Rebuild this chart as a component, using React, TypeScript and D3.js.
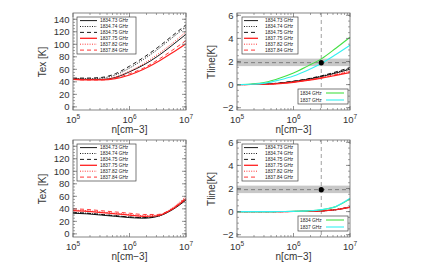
import * as d3 from 'd3'

const logN = [5, 5.25, 5.5, 5.75, 6, 6.25, 6.5, 6.75, 7]
const lineLabels = ['1834.73 GHz', '1834.74 GHz', '1834.75 GHz', '1837.75 GHz', '1837.82 GHz', '1837.84 GHz']
const lineColors = ['#000', '#000', '#000', '#ff2020', '#ff2020', '#ff2020']
const lineDash = ['', '1,1.4', '4,3', '', '1,1.4', '4,3']
const sumLabels = ['1834 GHz', '1837 GHz']
const sumColors = ['#44e044', '#33f0f0']

// Tex [K], top row
const texTop = [
  [45, 44, 44, 47, 56, 67, 81, 98, 116],
  [45, 45, 46, 51, 62, 76, 92, 110, 128],
  [46, 46, 47, 53, 65, 79, 95, 113, 131],
  [44, 43, 43, 45, 51, 60, 72, 86, 101],
  [45, 44, 44, 48, 57, 69, 84, 101, 120],
  [44, 43, 43, 46, 53, 62, 75, 90, 106],
]
// Tline [K], top row
const tlineTop = [
  [0, 0.01, 0.04, 0.12, 0.26, 0.45, 0.7, 1.0, 1.33],
  [0, 0.01, 0.05, 0.13, 0.28, 0.48, 0.74, 1.05, 1.42],
  [0, 0.01, 0.05, 0.14, 0.3, 0.5, 0.77, 1.1, 1.48],
  [0, 0.01, 0.03, 0.09, 0.2, 0.36, 0.56, 0.8, 1.05],
  [0, 0.01, 0.04, 0.11, 0.24, 0.41, 0.63, 0.9, 1.18],
  [0, 0.01, 0.03, 0.1, 0.22, 0.38, 0.6, 0.85, 1.12],
]
const sumTop = [
  [0, 0.05, 0.2, 0.55, 1.0, 1.6, 2.25, 3.15, 4.1],
  [0, 0.03, 0.13, 0.4, 0.75, 1.25, 1.85, 2.6, 3.4],
]
// bottom row
const texBottom = [
  [33, 32, 30, 28, 26, 25, 28, 38, 54],
  [34, 33, 31, 29, 27, 26, 28, 39, 56],
  [34, 33, 31, 29, 27, 26, 29, 39, 55],
  [37, 36, 34, 32, 30, 28, 29, 39, 56],
  [38, 37, 35, 33, 31, 29, 30, 41, 60],
  [40, 39, 37, 35, 33, 31, 31, 40, 58],
]
const tlineBottom = [
  [0, 0, 0, 0, 0.01, 0.02, 0.06, 0.16, 0.38],
  [0, 0, 0, 0, 0.01, 0.02, 0.06, 0.17, 0.4],
  [0, 0, 0, 0, 0.01, 0.02, 0.06, 0.17, 0.41],
  [0, 0, 0, 0, 0.01, 0.02, 0.06, 0.16, 0.37],
  [0, 0, 0, 0, 0.01, 0.02, 0.07, 0.18, 0.42],
  [0, 0, 0, 0, 0.01, 0.02, 0.06, 0.17, 0.4],
]
const sumBottom = [
  [0, 0, 0, 0.005, 0.02, 0.06, 0.16, 0.43, 1.1],
  [0, 0, 0, 0.005, 0.02, 0.06, 0.17, 0.45, 1.15],
]

const texTicks = [0, 20, 40, 60, 80, 100, 120, 140]
const tlineTicks = [-2, 0, 2, 4, 6]
const xDecades = [5, 6, 7]
const obsN = 3.1e6
const obsT = 1.9
const obsLo = 1.6
const obsHi = 2.25

const FONT = 'Liberation Sans, Arial, sans-serif'
const AX = '#666'

function Panel({ left, top, kind, series, sums }: any) {
  const w = 113
  const h = 97
  const x = d3.scaleLog().domain([1e5, 1e7]).range([left, left + w])
  const y = kind === 'tex'
    ? d3.scaleLinear().domain([-5, 150]).range([top + h, top])
    : d3.scaleLinear().domain([-2.2, 6.2]).range([top + h, top])
  const yTicks = kind === 'tex' ? texTicks : tlineTicks
  const yMinorStep = kind === 'tex' ? 5 : 0.5
  const yMinor = d3.range(yTicks[0], yTicks[yTicks.length - 1] + 1e-9, yMinorStep)
  const xMinor: number[] = []
  for (const d of [5, 6]) for (let k = 2; k <= 9; k++) xMinor.push(k * 10 ** d)
  const line = d3.line<number>()
    .x((_, i) => x(10 ** logN[i]))
    .y((v) => y(v))
    .curve(d3.curveMonotoneX)
  const right = left + w
  const bottom = top + h

  return (
    <g>
      {kind === 'tline' && (
        <g>
          <rect x={left} y={y(obsHi)} width={w} height={y(obsLo) - y(obsHi)} fill="#c8c8c8" />
          <line x1={left} x2={right} y1={y(obsT)} y2={y(obsT)} stroke="#777" strokeWidth={0.9} strokeDasharray="4,3" />
          <line x1={x(obsN)} x2={x(obsN)} y1={top} y2={bottom} stroke="#888" strokeWidth={0.8} strokeDasharray="4,3" />
        </g>
      )}
      {series.map((s: number[], i: number) => (
        <path key={i} d={line(s) || ''} fill="none" stroke={lineColors[i]}
          strokeWidth={i === 3 ? 1.2 : 0.9} strokeDasharray={lineDash[i]} />
      ))}
      {sums && sums.map((s: number[], i: number) => (
        <path key={'s' + i} d={line(s) || ''} fill="none" stroke={sumColors[i]} strokeWidth={1.1} />
      ))}
      {kind === 'tline' && <circle cx={x(obsN)} cy={y(obsT)} r={2.6} fill="#000" />}

      <rect x={left} y={top} width={w} height={h} fill="none" stroke={AX} strokeWidth={0.8} />
      {yTicks.map((t: number) => (
        <g key={'y' + t}>
          <line x1={left} x2={left + 4} y1={y(t)} y2={y(t)} stroke={AX} strokeWidth={0.7} />
          <line x1={right} x2={right - 4} y1={y(t)} y2={y(t)} stroke={AX} strokeWidth={0.7} />
          <text x={left - 3.5} y={y(t) + 3.4} textAnchor="end" fontSize={9.5} fill="#333" fontFamily={FONT}>
            {t < 0 ? '\u2212' + Math.abs(t) : t}
          </text>
        </g>
      ))}
      {yMinor.map((t: number) => (
        <g key={'ym' + t}>
          <line x1={left} x2={left + 2} y1={y(t)} y2={y(t)} stroke={AX} strokeWidth={0.6} />
          <line x1={right} x2={right - 2} y1={y(t)} y2={y(t)} stroke={AX} strokeWidth={0.6} />
        </g>
      ))}
      {xDecades.map((d) => (
        <g key={'x' + d}>
          <line x1={x(10 ** d)} x2={x(10 ** d)} y1={bottom} y2={bottom - 4} stroke={AX} strokeWidth={0.7} />
          <line x1={x(10 ** d)} x2={x(10 ** d)} y1={top} y2={top + 4} stroke={AX} strokeWidth={0.7} />
          <text x={x(10 ** d)} y={bottom + 12.5} textAnchor="middle" fontSize={9.5} fill="#333" fontFamily={FONT}>
            10<tspan fontSize={6.5} dy={-4}>{d}</tspan>
          </text>
        </g>
      ))}
      {xMinor.map((v) => (
        <g key={'xm' + v}>
          <line x1={x(v)} x2={x(v)} y1={bottom} y2={bottom - 2} stroke={AX} strokeWidth={0.6} />
          <line x1={x(v)} x2={x(v)} y1={top} y2={top + 2} stroke={AX} strokeWidth={0.6} />
        </g>
      ))}
      <text x={(left + right) / 2} y={bottom + 23} textAnchor="middle" fontSize={10} fill="#333" fontFamily={FONT}>
        {'n[cm\u22123]'}
      </text>
      <text transform={`translate(${kind === 'tex' ? left - 27 : left - 22},${top + 49}) rotate(-90)`}
        textAnchor="middle" fontSize={10} fill="#333" fontFamily={FONT}>
        {kind === 'tex' ? 'Tex [K]' : 'Tline[K]'}
      </text>

      {/* legend of the six transitions */}
      <g transform={`translate(${kind === 'tex' ? left + 4 : left + 5},${top + 4})`}>
        <rect x={0} y={0} width={kind === 'tex' ? 59 : 56} height={37} fill="#fff" stroke="#444" strokeWidth={0.7} />
        {lineLabels.map((lab, i) => (
          <g key={lab} transform={`translate(0,${3.6 + i * 5.9})`}>
            <line x1={kind === 'tex' ? 3 : 2} x2={kind === 'tex' ? 20 : 16} y1={0} y2={0} stroke={lineColors[i]}
              strokeWidth={i === 3 ? 1.3 : 0.9} strokeDasharray={lineDash[i]} />
            <text x={23} y={1.7} fontSize={4.8} fill="#222" fontFamily={FONT}>{lab}</text>
          </g>
        ))}
      </g>
      {sums && (
        <g transform={`translate(${left + 61},${top + 76})`}>
          <rect x={0} y={0} width={50} height={15} fill="#fff" stroke="#444" strokeWidth={0.7} />
          {sumLabels.map((lab, i) => (
            <g key={lab} transform={`translate(0,${4 + i * 7})`}>
              <text x={2} y={1.7} fontSize={4.8} fill="#222" fontFamily={FONT}>{lab}</text>
              <line x1={28} x2={46} y1={0} y2={0} stroke={sumColors[i]} strokeWidth={1.1} />
            </g>
          ))}
        </g>
      )}
    </g>
  )
}

export default function App() {
  return (
    <svg width={432} height={263} style={{ position: 'absolute', left: 0, top: 0, background: '#fff' }}>
      <Panel left={73} top={13} kind="tex" series={texTop} />
      <Panel left={237} top={13} kind="tline" series={tlineTop} sums={sumTop} />
      <Panel left={73} top={140} kind="tex" series={texBottom} />
      <Panel left={237} top={140} kind="tline" series={tlineBottom} sums={sumBottom} />
    </svg>
  )
}
